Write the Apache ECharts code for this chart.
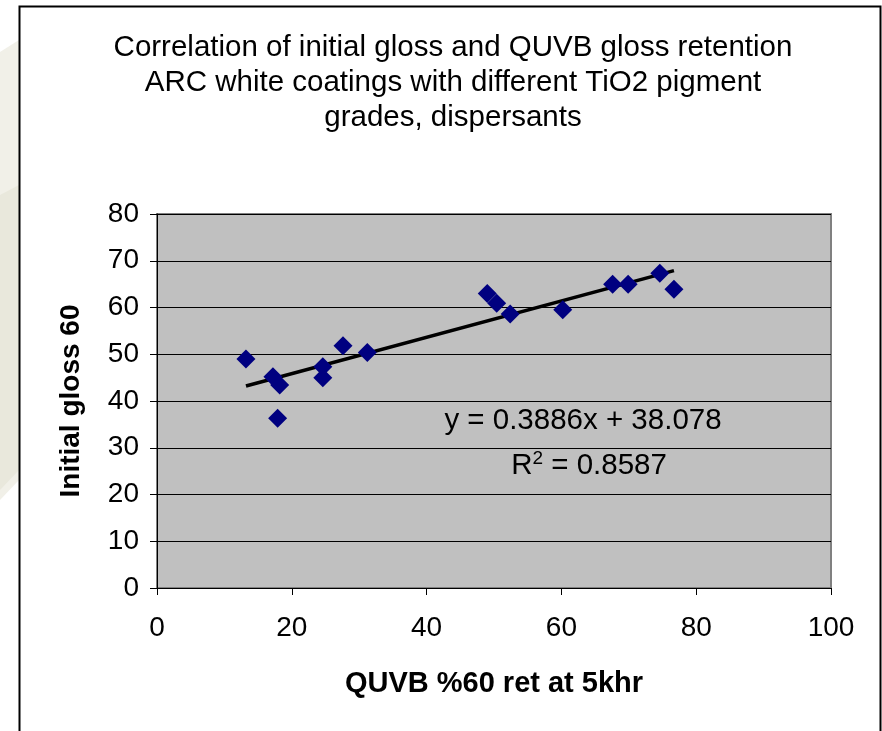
<!DOCTYPE html>
<html>
<head>
<meta charset="utf-8">
<script src="https://cdn.jsdelivr.net/npm/echarts@6/dist/echarts.min.js"></script>
<style>
html,body{margin:0;padding:0;background:#fff;}
#c{width:882px;height:731px;}
</style>
</head>
<body>
<div id="c"></div>
<script>
// ---- data ----
var titleLines = ['Correlation of initial gloss and QUVB gloss retention', 'ARC white coatings with different TiO2 pigment', 'grades, dispersants'];
var xName = 'QUVB %60 ret at 5khr';
var yName = 'Initial gloss 60';
var quvbRet = [13.2, 17.2, 18.2, 17.9, 24.6, 24.6, 27.6, 31.2, 49.0, 50.4, 52.4, 60.2, 67.6, 69.9, 74.6, 76.7];
var initialGloss = [49.0, 45.2, 43.4, 36.3, 47.3, 45.0, 51.8, 50.4, 63.0, 60.9, 58.6, 59.5, 65.0, 65.0, 67.3, 63.9];
var trendSlope = 0.3886;
var trendIntercept = 38.078;
var eqText = 'y = 0.3886x + 38.078';
var r2Text = '0.8587';
var xTicks = [0, 20, 40, 60, 80, 100];
var yTicks = [0, 10, 20, 30, 40, 50, 60, 70, 80];

// ---- build ----
var pts = quvbRet.map(function (x, i) { return [x, initialGloss[i]]; });
var xMin = Math.min.apply(null, quvbRet), xMax = Math.max.apply(null, quvbRet);
var trend = [[xMin, trendSlope * xMin + trendIntercept], [xMax, trendSlope * xMax + trendIntercept]];
var FONT = '"Liberation Sans", Arial, sans-serif';

var chart = echarts.init(document.getElementById('c'), null, {renderer: 'canvas'});
chart.setOption({
  animation: false,
  backgroundColor: '#ffffff',
  textStyle: {fontFamily: FONT, color: '#000'},
  grid: {left: 157, top: 214, right: 51, bottom: 143, show: true,
         backgroundColor: '#c0c0c0', borderColor: '#808080', borderWidth: 2},
  xAxis: {
    type: 'value', min: xTicks[0], max: xTicks[xTicks.length - 1], interval: 20,
    name: xName, nameLocation: 'middle', nameGap: 81,
    nameTextStyle: {fontFamily: FONT, fontSize: 29, fontWeight: 'bold', color: '#000'},
    axisLine: {show: true, lineStyle: {color: '#000', width: 1}},
    axisTick: {show: true, length: 7, lineStyle: {color: '#000'}},
    axisLabel: {fontFamily: FONT, fontSize: 28, color: '#000', margin: 26},
    splitLine: {show: false}
  },
  yAxis: {
    type: 'value', min: yTicks[0], max: yTicks[yTicks.length - 1], interval: 10,
    name: yName, nameLocation: 'middle', nameGap: 72, nameRotate: 90,
    nameTextStyle: {fontFamily: FONT, fontSize: 28, fontWeight: 'bold', color: '#000'},
    axisLine: {show: true, lineStyle: {color: '#000', width: 1}},
    axisTick: {show: true, length: 7, lineStyle: {color: '#000'}},
    axisLabel: {fontFamily: FONT, fontSize: 28, color: '#000', margin: 18},
    splitLine: {show: true, lineStyle: {color: '#000', width: 1}}
  },
  series: [
    {type: 'line', data: trend, symbol: 'none', z: 3,
     lineStyle: {color: '#000', width: 3.5}},
    {type: 'scatter', data: pts, symbol: 'diamond', symbolSize: 19, z: 4,
     itemStyle: {color: '#000080', opacity: 1}}
  ],
  graphic: [
    {type: 'polygon', z: -10, shape: {points: [[0, 52], [19, 40], [19, 480], [0, 500]]}, style: {fill: '#f1f0e8'}},
    {type: 'polygon', z: -10, shape: {points: [[0, 195], [19, 185], [19, 470], [0, 490]]}, style: {fill: '#e9e8dc'}},
    {type: 'rect', z: 100, shape: {x: 19.5, y: 6.5, width: 861, height: 740}, style: {fill: 'none', stroke: '#000', lineWidth: 2}},
    {type: 'text', z: 100, x: 453, y: 30, style: {
      text: titleLines.join('\n'), font: '29.5px ' + FONT, fill: '#000',
      textAlign: 'center', lineHeight: 35}},
    {type: 'text', z: 100, x: 583, y: 421, style: {
      text: eqText, font: '29.5px ' + FONT, fill: '#000', textAlign: 'center', textVerticalAlign: 'middle'}},
    {type: 'text', z: 100, x: 589, y: 466, style: {
      text: 'R{sup|2} = ' + r2Text, font: '29.5px ' + FONT, fill: '#000', textAlign: 'center', textVerticalAlign: 'middle',
      rich: {sup: {fontSize: 19, fontFamily: FONT, verticalAlign: 'top', padding: [0, 0, 14, 0]}}}}
  ]
});
</script>
</body>
</html>
